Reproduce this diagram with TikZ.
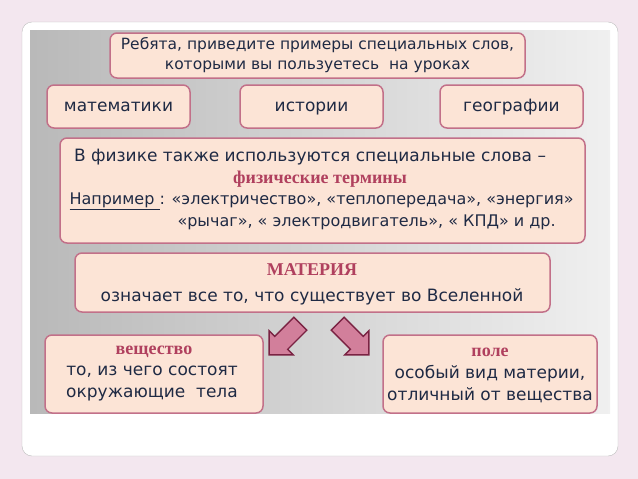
\documentclass[tikz,border=0pt]{standalone}
\usepackage{fontspec}
\setmainfont{DejaVu Sans}
\newfontfamily\termfont{Liberation Serif}
\usetikzlibrary{shapes.arrows}
\definecolor{pagebg}{HTML}{F3E7EF}
\definecolor{boxfill}{HTML}{FCE4D6}
\definecolor{boxline}{HTML}{C27089}
\definecolor{termred}{HTML}{B0405E}
\definecolor{inktext}{HTML}{1F2A44}
\definecolor{arrowfill}{HTML}{D27F9B}
\definecolor{arrowline}{HTML}{7A2343}
\tikzset{
  card/.style={draw=boxline, line width=1.5pt, fill=boxfill, rounded corners=7pt,
    text=inktext, align=center, font=\fontsize{17}{21}\selectfont, inner sep=0pt},
  body/.style={text=inktext, font=\fontsize{17}{22}\selectfont, align=center},
  bigarrow/.style={single arrow, draw=arrowline, line width=1.4pt, fill=arrowfill,
    minimum height=44pt, minimum width=34pt, single arrow head extend=4pt,
    single arrow head indent=0pt, inner sep=4pt},
  term/.style={font=\termfont\bfseries\fontsize{18}{20}\selectfont, text=termred}
}
\begin{document}
\begin{tikzpicture}[x=1pt,y=-1pt]
\useasboundingbox[fill=pagebg] (0,0) rectangle (638,479);
% white card and grey panel
\fill[white, draw=gray!50, rounded corners=10pt] (22,22) rectangle (618,456);
\shade[left color=gray!55, right color=gray!12] (30,30) rectangle (610,413);
% arrows
\node[bigarrow, rotate=-135] (toSub) at (288,336) {};
\node[bigarrow, rotate=-45] (toField) at (350,336) {};
% question
\node[card, minimum width=415pt, minimum height=45pt, font=\fontsize{15.5}{20}\selectfont] (ask) at (317.5,55.5)
  {Ребята, приведите примеры специальных слов,\\которыми вы пользуетесь~ на уроках};
\node[card, minimum width=143pt, minimum height=43pt, text height=12pt, text depth=3pt] (math) at (118.5,106.5) {математики};
\node[card, minimum width=143pt, minimum height=43pt, text height=12pt, text depth=3pt] (hist) at (311.5,106.5) {истории};
\node[card, minimum width=143pt, minimum height=43pt, text height=12pt, text depth=3pt] (geo) at (511.5,106.5) {географии};
% physics terms
\node[card, minimum width=525pt, minimum height=105pt] (phys) at (322.5,190.5) {};
\node[body] (physA) at (310,157) {В физике также используются специальные слова –};
\node[term] (physB) at (320,179) {физические термины};
\node[body, font=\fontsize{16}{18}\selectfont, anchor=west] (physC) at (66,201)
  {\underline{Например }: «электричество», «теплопередача», «энергия»};
\node[body, font=\fontsize{16}{18}\selectfont, anchor=west] (physD) at (174,222)
  {«рычаг», « электродвигатель», « КПД» и др.};
% matter
\node[card, minimum width=475pt, minimum height=59pt] (matter) at (312.5,282.5) {};
\node[term] (matterA) at (312,270) {МАТЕРИЯ};
\node[body] (matterB) at (312,297) {означает все то, что существует во Вселенной};
% substance and field
\node[card, minimum width=218pt, minimum height=78pt] (sub) at (154,374) {};
\node[term] (subA) at (154,352) {вещество};
\node[body] (subB) at (152,384) {то, из чего состоят\\окружающие~ тела};
\node[card, minimum width=214pt, minimum height=78pt] (field) at (490,374) {};
\node[term] (fieldA) at (490,352) {поле};
\node[body] (fieldB) at (490,384) {особый вид материи,\\отличный от вещества};
\end{tikzpicture}
\end{document}
